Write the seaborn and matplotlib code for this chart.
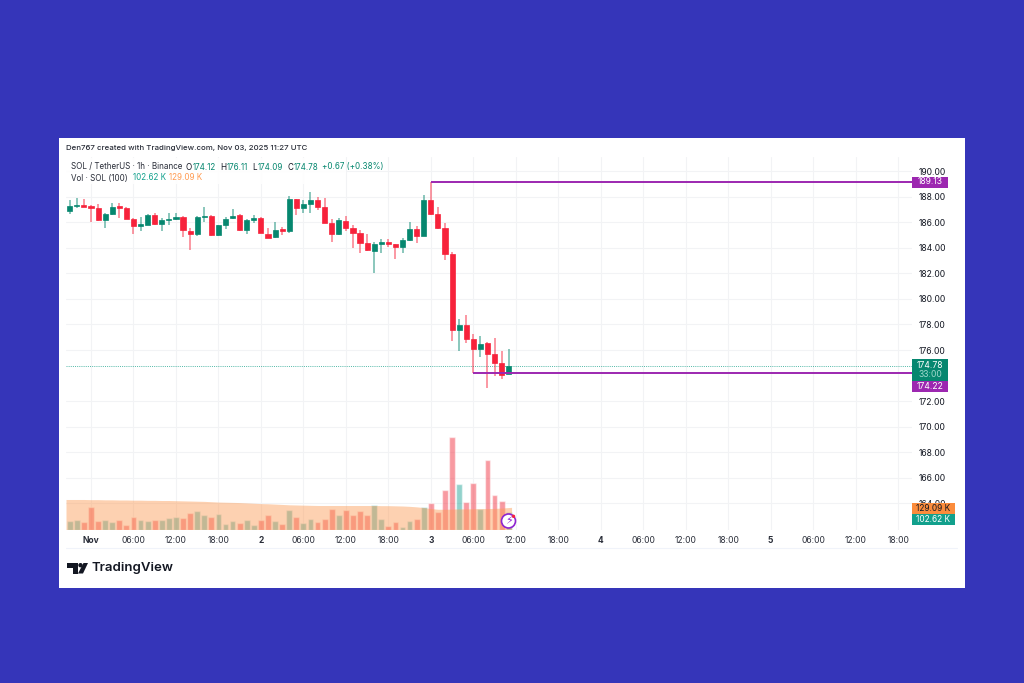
import matplotlib
matplotlib.use('Agg')
import matplotlib.pyplot as plt
from matplotlib.patches import Rectangle, Polygon, Circle
import seaborn as sns
import pandas as pd

sns.set_theme(style='white')
plt.rcParams['font.family'] = ['Inter', 'DejaVu Sans']

hours = list(range(-3, 60))
opens = [186.90, 187.26, 187.34, 187.26, 187.13, 186.14, 186.64, 187.24, 187.11, 186.25,
         185.73, 185.80, 186.59, 185.83, 186.17, 186.25, 186.43, 185.33, 185.05, 186.43,
         186.46, 185.00, 185.78, 186.30, 186.53, 185.36, 186.17, 186.35, 185.10, 184.81,
         185.44, 185.33, 187.81, 187.13, 187.42, 187.73, 187.16, 185.91, 185.05, 186.12,
         185.57, 185.13, 184.35, 183.77, 184.29, 184.45, 184.27, 184.03, 184.58, 185.49,
         184.92, 187.73, 186.61, 185.52, 183.51, 177.57, 177.96, 176.84, 176.11, 176.53,
         175.69, 174.96, 174.12]
highs = [187.73, 187.86, 187.78, 187.34, 187.42, 186.74, 187.52, 187.52, 187.16, 186.35,
         186.38, 186.61, 186.74, 186.30, 186.69, 186.69, 186.48, 185.57, 186.48, 187.16,
         186.56, 185.78, 186.38, 187.00, 186.61, 186.22, 186.56, 186.38, 185.52, 185.99,
         185.60, 188.05, 187.81, 187.73, 188.33, 187.94, 187.91, 186.22, 186.35, 186.48,
         185.78, 185.39, 185.07, 184.48, 184.66, 184.66, 184.29, 184.74, 186.04, 185.70,
         188.12, 189.13, 187.21, 185.96, 183.69, 178.43, 178.74, 177.26, 177.10, 176.66,
         176.92, 175.93, 176.11]
lows = [186.64, 187.08, 187.21, 186.04, 186.12, 185.57, 186.56, 186.30, 186.22, 185.05,
        185.34, 185.78, 185.78, 185.34, 185.78, 186.17, 184.86, 183.82, 184.94, 186.04,
        184.94, 184.94, 185.44, 186.22, 185.33, 185.05, 185.91, 185.13, 184.74, 184.79,
        185.00, 185.13, 186.56, 186.69, 186.74, 186.95, 185.91, 184.47, 185.00, 185.33,
        183.95, 183.56, 183.75, 182.05, 183.61, 184.03, 183.09, 183.61, 184.55, 184.35,
        184.92, 186.56, 185.44, 183.04, 176.74, 175.93, 176.53, 174.22, 175.49, 173.01,
        174.00, 173.71, 174.09]
closes = [187.29, 187.34, 187.21, 187.13, 186.17, 186.61, 187.21, 187.11, 186.25, 185.73,
          185.83, 186.59, 185.83, 186.17, 186.25, 186.40, 185.39, 185.05, 186.43, 186.51,
          185.00, 185.75, 186.27, 186.51, 185.36, 186.14, 186.35, 185.13, 184.79, 185.39,
          185.31, 187.81, 187.13, 187.42, 187.73, 187.16, 185.91, 185.05, 186.17, 185.52,
          185.13, 184.35, 183.82, 184.29, 184.45, 184.27, 184.03, 184.60, 185.49, 184.92,
          187.73, 186.61, 185.52, 183.51, 177.57, 177.93, 176.84, 176.11, 176.50, 175.69,
          174.96, 174.08, 174.78]
volumes = [49, 58, 45, 130, 49, 54, 45, 58, 29, 72,
           54, 47, 54, 56, 66, 70, 68, 97, 107, 85,
           72, 89, 31, 49, 37, 56, 29, 58, 82, 47,
           31, 111, 72, 40, 62, 43, 62, 117, 82, 111,
           84, 105, 84, 144, 62, 23, 41, 17, 47, 62,
           134, 157, 101, 233, 542, 266, 163, 272, 120, 406,
           204, 167, 102.62]
volume_ma = [175, 175, 175, 174, 174, 173, 173, 172, 172, 171,
             171, 170, 170, 169, 169, 168, 167, 166, 165, 164,
             162, 160, 159, 158, 157, 155, 153, 151, 150, 148,
             146, 144, 143, 142, 141, 140, 140, 140, 140, 140,
             140, 140, 140, 140, 139, 139, 138, 137, 135, 132,
             128, 122, 118, 118, 119, 120, 120, 121, 122, 122,
             123, 125, 129.09]

price_ticks = [190, 188, 186, 184, 182, 180, 178, 176, 172, 170, 168, 166, 164]
time_ticks = [0, 6, 12, 18, 24, 30, 36, 42, 48, 54, 60, 66, 72, 78, 84, 90, 96, 102, 108, 114]
time_labels = ['Nov', '06:00', '12:00', '18:00', '2', '06:00', '12:00', '18:00', '3', '06:00',
               '12:00', '18:00', '4', '06:00', '12:00', '18:00', '5', '06:00', '12:00', '18:00']
high_level = 189.13
low_level = 174.22
last_close = 174.78

GREEN = '#06876f'
RED = '#f7223b'
PURPLE = '#9c27b0'
BLUE_BG = '#3535b9'
TEXT = '#131722'
ORANGE = '#ff9a50'

df = pd.DataFrame({'hour': hours, 'open': opens, 'high': highs, 'low': lows,
                   'close': closes, 'volume': volumes, 'ma': volume_ma})
df['side'] = ['up' if c >= o else 'down' for o, c in zip(df['open'], df['close'])]
df['color'] = df['side'].map({'up': GREEN, 'down': RED})

W, H = 1024, 683
fig = plt.figure(figsize=(W / 100, H / 100), dpi=100, facecolor=BLUE_BG)
fig.patches.append(Rectangle((59 / W, 1 - 588 / H), 906 / W, 450 / H, transform=fig.transFigure,
                             facecolor='white', edgecolor='none', zorder=-5))

# chart pane, x 66-912 px, y 157-529.5 px
pos = [66 / W, 1 - 529.5 / H, 846 / W, 372.5 / H]
ax = fig.add_axes(pos, zorder=1)
ax.patch.set_alpha(0)
vol = fig.add_axes(pos, zorder=2)
vol.patch.set_alpha(0)

# candles
ax.vlines(df['hour'], df['low'], df['high'], colors=df['color'], linewidth=1.3, alpha=0.5, zorder=3)
ax.bar(df['hour'], (df['close'] - df['open']).abs().clip(lower=0.08),
       bottom=df[['open', 'close']].min(axis=1), width=0.72, color=df['color'],
       edgecolor=df['color'], linewidth=0.5, zorder=4)
ax.hlines(high_level, 48, 116, color=PURPLE, linewidth=1.4, zorder=5)
ax.hlines(low_level, 54, 116, color=PURPLE, linewidth=1.4, zorder=5)
ax.hlines(last_close, -3.5, 116, color='#089981', linewidth=0.7, linestyles=(0, (1, 1.2)), alpha=0.7, zorder=2)

ax.set_xlim(-3.53, 115.96)
ax.set_ylim(161.96, 191.1)
ax.set_yticks(price_ticks)
ax.set_yticklabels([f'{t:.2f}' for t in price_ticks])
ax.yaxis.tick_right()
ax.set_xticks(time_ticks)
ax.set_xticklabels(time_labels)
ax.tick_params(axis='y', length=0, pad=4.5, labelsize=6.2, labelcolor=TEXT)
ax.tick_params(axis='x', length=0, pad=4.5, labelsize=6.1, labelcolor='#2a2e39')
for lab in ax.get_xticklabels():
    if lab.get_text() in ('Nov', '2', '3', '4', '5'):
        lab.set_fontweight('bold')
ax.grid(True, color='#f2f3f5', linewidth=0.8)
ax.set_axisbelow(True)
sns.despine(ax=ax, left=True, right=True, top=True, bottom=True)

# volume pane
sns.barplot(data=df, x='hour', y='volume', hue='side', palette={'up': '#26a69a', 'down': '#f23645'},
            native_scale=True, dodge=False, width=0.82, saturation=1, alpha=0.5, legend=False, ax=vol)
ma_x = [-3.53] + hours[1:-1] + [59.4]
vol.fill_between(ma_x, df['ma'], color='#fc9a52', alpha=0.45, linewidth=0, zorder=5)
vol.set_xlim(-3.53, 115.96)
vol.set_ylim(0, 2172)
vol.axis('off')

# overlay in pixel coordinates for legend, tags and logo
ov = fig.add_axes([0, 0, 1, 1], zorder=3)
ov.set_xlim(0, W)
ov.set_ylim(H, 0)
ov.axis('off')
ov.patch.set_alpha(0)

ov.add_patch(Rectangle((66, 158), 280, 26, facecolor='white', edgecolor='none', alpha=0.9))
ov.plot([66, 957], [548, 548], color='#f0f3fa', linewidth=0.8)

ov.text(66, 148, 'Den767 created with TradingView.com, Nov 03, 2025 11:27 UTC', fontsize=5.65,
        fontweight='medium', color='#2a2e39', va='center')
ov.text(71, 167, 'SOL / TetherUS · 1h · Binance', fontsize=5.8, color='#2a2e39', va='center')
for x, s, c in [(186, 'O', TEXT), (192.5, '174.12', GREEN), (220.7, 'H', TEXT), (226.7, '176.11', GREEN),
                (252.7, 'L', TEXT), (258, '174.09', GREEN), (287.7, 'C', TEXT), (293.5, '174.78', GREEN),
                (322, '+0.67 (+0.38%)', GREEN)]:
    ov.text(x, 167, s, fontsize=5.8, color=c, va='center')
ov.text(71, 178, 'Vol · SOL (100)', fontsize=5.8, color='#2a2e39', va='center')
ov.text(133, 178, '102.62 K', fontsize=5.8, color='#12a08c', va='center')
ov.text(169, 178, '129.09 K', fontsize=5.8, color=ORANGE, va='center')

# axis tags
ov.add_patch(Rectangle((912, 176.5), 36, 11, facecolor=PURPLE, edgecolor='none'))
ov.text(930, 182, '189.13', color='white', fontsize=6.2, ha='center', va='center')
ov.add_patch(Rectangle((912, 359), 36, 22, facecolor=GREEN, edgecolor='none'))
ov.text(930, 365, '174.78', color='white', fontsize=6.2, ha='center', va='center')
ov.text(930, 374.5, '33:00', color='#9fd8cc', fontsize=6.2, ha='center', va='center')
ov.add_patch(Rectangle((912, 381), 36, 11, facecolor=PURPLE, edgecolor='none'))
ov.text(930, 386.5, '174.22', color='white', fontsize=6.2, ha='center', va='center')
ov.add_patch(Rectangle((912, 503), 42.5, 10.5, facecolor='#fb8c3c', edgecolor='none'))
ov.text(933, 508.3, '129.09 K', color=TEXT, fontsize=6.0, ha='center', va='center')
ov.add_patch(Rectangle((912, 513.5), 42.5, 11, facecolor='#12a08c', edgecolor='none'))
ov.text(933, 519, '102.62 K', color='white', fontsize=6.0, ha='center', va='center')

# flash icon on the last bar
ov.add_patch(Circle((508.5, 521), 7, facecolor='white', edgecolor='#8e24d0', linewidth=1.2))
ov.text(508.5, 521, '\u26a1', color='#8e24d0', fontsize=8, ha='center', va='center',
        family=['DejaVu Sans'])
ov.add_patch(Circle((513.5, 516.3), 1.7, facecolor='#f7223b', edgecolor='none'))

# TradingView logo
ov.add_patch(Polygon([(67, 563), (77.5, 563), (77.5, 573.5), (72.5, 573.5), (72.5, 567.5), (67, 567.5)],
                     facecolor='#131722', edgecolor='none'))
ov.add_patch(Circle((80.5, 565.2), 2.2, facecolor='#131722', edgecolor='none'))
ov.add_patch(Polygon([(83.5, 563), (88, 563), (83, 573.5), (78, 573.5)],
                     facecolor='#131722', edgecolor='none'))
ov.text(92, 568, 'TradingView', fontsize=9.5, fontweight='semibold', color='#131722', va='center')

fig.savefig('out.png', dpi=100, facecolor=fig.get_facecolor())
